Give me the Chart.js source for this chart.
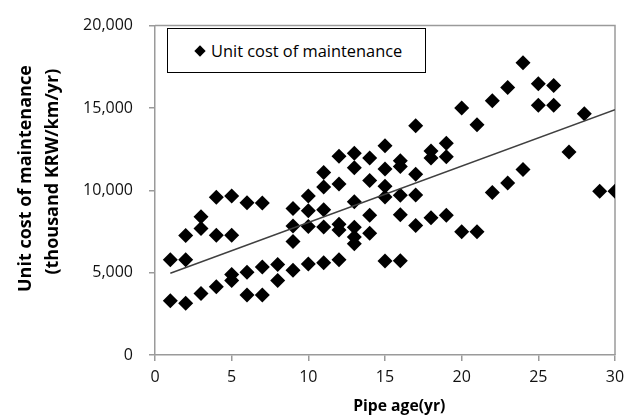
<!DOCTYPE html>
<html>
<head>
<meta charset="utf-8">
<script src="https://cdn.jsdelivr.net/npm/chart.js@4.4.1/dist/chart.umd.min.js"></script>
<style>
  html, body { margin: 0; padding: 0; background: #fff; }
  #wrap { position: relative; width: 632px; height: 419px; }
  #legendBox {
    position: absolute; left: 167px; top: 28px; width: 259px; height: 45px;
    box-sizing: border-box; border: 1.5px solid #000; background: #fff;
    font-family: "Open Sans", sans-serif; font-size: 16.4px; color: #000;
    display: flex; align-items: center;
  }
  #legendBox .mark {
    width: 8px; height: 8px; background: #000; transform: rotate(45deg);
    margin-left: 28px; margin-right: 7px;
  }
</style>
</head>
<body>
<div id="wrap">
  <canvas id="chart" width="632" height="419"></canvas>
  <div id="legendBox"><span class="mark"></span><span id="legendText"></span></div>
</div>
<script>
// pipe age (yr) and unit cost of maintenance (thousand KRW/km/yr), one line per age
const ages = [
  1, 1,
  2, 2, 2,
  3, 3, 3,
  4, 4, 4,
  5, 5, 5, 5,
  6, 6, 6,
  7, 7, 7,
  8, 8,
  9, 9, 9, 9,
  10, 10, 10, 10,
  11, 11, 11, 11, 11,
  12, 12, 12, 12, 12,
  13, 13, 13, 13, 13, 13,
  14, 14, 14, 14,
  15, 15, 15, 15, 15,
  16, 16, 16, 16, 16,
  17, 17, 17, 17,
  18, 18, 18,
  19, 19, 19,
  20, 20,
  21, 21,
  22, 22,
  23, 23,
  24, 24,
  25, 25,
  26, 26,
  27,
  28,
  29,
  30
];
const costs = [
  5780, 3300,
  7250, 5780, 3140,
  8400, 7680, 3740,
  9580, 7270, 4140,
  9650, 7270, 4890, 4520,
  9250, 5020, 3640,
  9230, 5340, 3640,
  5490, 4530,
  8900, 7840, 6890, 5150,
  9660, 8760, 7800, 5520,
  11080, 10200, 8820, 7770, 5600,
  12060, 10390, 7940, 7590, 5780,
  12250, 11370, 9300, 7750, 7160, 6760,
  11960, 10590, 8490, 7390,
  12700, 11290, 10250, 9600, 5700,
  11800, 11450, 9700, 8510, 5720,
  13920, 10980, 9720, 7870,
  12380, 11960, 8330,
  12860, 12040, 8490,
  15000, 7480,
  13980, 7480,
  15430, 9860,
  16240, 10450,
  17750, 11270,
  16470, 15160,
  16370, 15160,
  12330,
  14650,
  9940,
  9940
];

// linear trend line at its two ends
const trendAges = [1, 30];
const trendCosts = [4960, 14900];

const seriesName = 'Unit cost of maintenance';
const xTitle = 'Pipe age(yr)';
const yTitle = ['Unit cost of maintenance', '(thousand KRW/km/yr)'];
const xMin = 0, xMax = 30, xStep = 5;
const yMin = 0, yMax = 20000, yStep = 5000;

const axisGray = '#9a9a9a';
// titles in the original sit a bit off the plot centre, nudge them with leading spaces
const pad = n => '\u00a0'.repeat(n);

document.getElementById('legendText').textContent = seriesName;

const points = ages.map((a, i) => ({ x: a, y: costs[i] }));
const trendPoints = trendAges.map((a, i) => ({ x: a, y: trendCosts[i] }));

// top and right edges of the plot box
const frame = {
  id: 'frame',
  beforeDatasetsDraw(chart) {
    const { ctx, chartArea: a } = chart;
    ctx.save();
    ctx.strokeStyle = axisGray;
    ctx.lineWidth = 1.5;
    ctx.beginPath();
    ctx.moveTo(a.left, a.top);
    ctx.lineTo(a.right, a.top);
    ctx.lineTo(a.right, a.bottom);
    ctx.stroke();
    ctx.restore();
  }
};

Chart.defaults.font.family = '"Open Sans", sans-serif';
Chart.defaults.color = '#111';

new Chart(document.getElementById('chart').getContext('2d'), {
  type: 'scatter',
  data: {
    datasets: [
      {
        type: 'line',
        label: 'trend',
        data: trendPoints,
        borderColor: '#404040',
        borderWidth: 1.5,
        pointRadius: 0,
        fill: false,
        order: 0
      },
      {
        label: seriesName,
        data: points,
        pointStyle: 'rectRot',
        pointRadius: 7.5,
        backgroundColor: '#000',
        borderColor: '#000',
        borderWidth: 0,
        order: 1
      }
    ]
  },
  options: {
    responsive: false,
    animation: false,
    layout: { padding: { top: 15, right: 17, left: 0, bottom: 0 } },
    plugins: {
      legend: { display: false },
      tooltip: { enabled: false }
    },
    scales: {
      x: {
        type: 'linear',
        min: xMin,
        max: xMax,
        ticks: { stepSize: xStep, font: { size: 16 }, padding: 7 },
        grid: { drawOnChartArea: false, tickLength: 6, color: axisGray, lineWidth: 1.5 },
        border: { color: axisGray, width: 1.5 },
        title: { display: true, text: pad(7) + xTitle, color: '#000', font: { size: 15.7, weight: 'bold' }, padding: { bottom: 3 } },
        afterFit: s => { s.height = 64; }
      },
      y: {
        min: yMin,
        max: yMax,
        ticks: {
          stepSize: yStep,
          font: { size: 16 },
          padding: 16,
          callback: v => v.toLocaleString('en-US')
        },
        grid: { drawOnChartArea: false, tickLength: 6, color: axisGray, lineWidth: 1.5 },
        border: { color: axisGray, width: 1.5 },
        title: {
          display: true,
          text: [pad(5) + yTitle[0], pad(8) + yTitle[1]],
          color: '#000',
          font: { size: 18, weight: 'bold', lineHeight: 1.5 },
          padding: { top: 12 }
        },
        afterFit: s => { s.width = 155; }
      }
    }
  },
  plugins: [frame]
});
</script>
</body>
</html>
